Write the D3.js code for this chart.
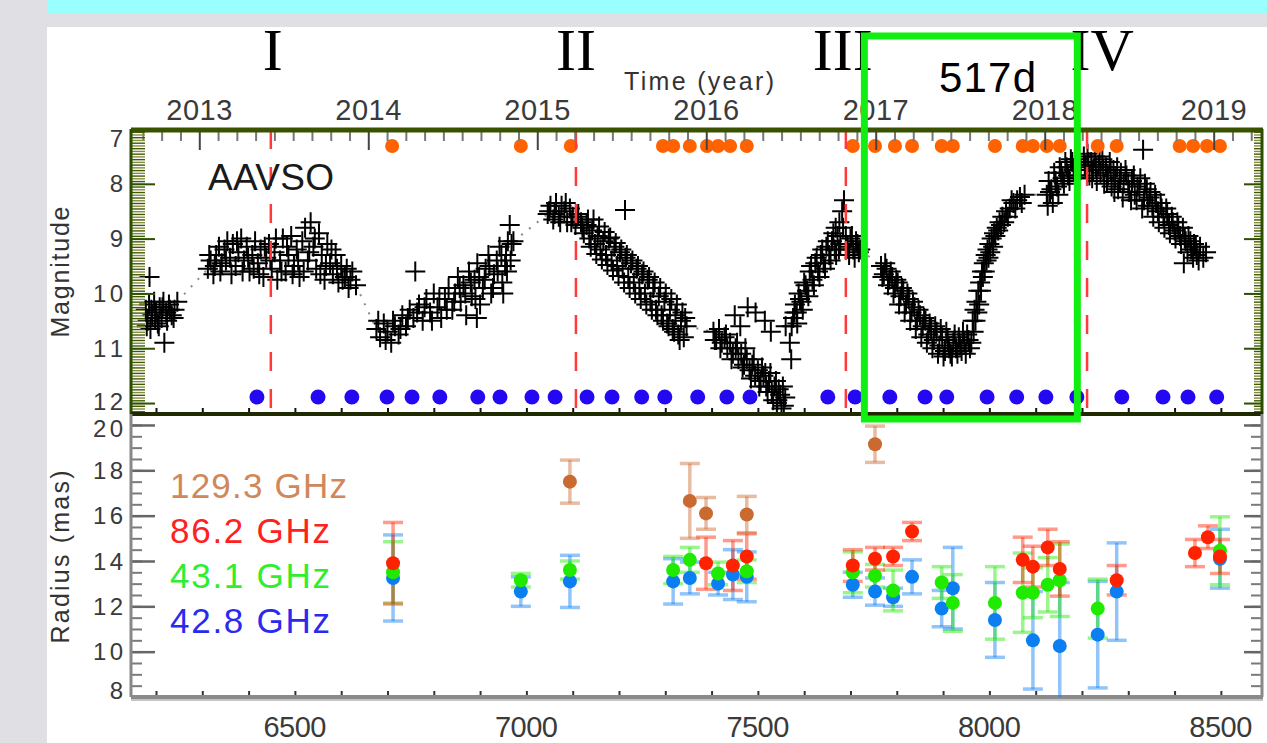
<!DOCTYPE html>
<html>
<head>
<meta charset="utf-8">
<script src="https://cdn.jsdelivr.net/npm/d3@7"></script>
<style>
    body { margin: 0; background: #e0dfe3; }
    svg { display: block; font-family: "Liberation Sans", Arial, sans-serif; }
</style>
</head>
<body>
<div id="chart"></div>
<script>
// AAVSO visual magnitudes [JD-2450000, mag]
const aavso = [
    [6178,10.3],[6182,10.5],[6185,10.2],[6186,9.7],[6188,10.65],[6192,10.4],[6196,10.15],[6200,10.35],[6204,10.55],
    [6208,10.25],[6212,10.45],[6216,10.15],[6218,10.9],[6222,10.35],[6228,10.2],[6234,10.4],[6240,10.3],[6246,10.15],
    [6180,10.6],[6190,10.3],[6198,10.45],[6206,10.6],[6214,10.25],[6224,10.5],[6230,10.3],[6238,10.45],

    [6312,9.55],[6318,9.4],[6324,9.65],[6330,9.3],[6336,9.15],[6342,9.45],[6348,9.2],[6354,9.05],[6360,9.35],
    [6366,9.1],[6372,9.5],[6378,9.25],[6384,9.0],[6390,9.4],[6396,9.15],[6402,9.6],[6408,9.3],[6414,9.05],
    [6420,9.45],[6426,9.2],[6432,9.7],[6438,9.35],[6444,9.1],[6450,9.55],[6456,9.25],[6462,9.75],[6468,9.4],
    [6474,9.0],[6480,9.6],[6486,9.3],[6492,8.95],[6498,9.5],[6504,9.2],[6510,9.7],[6516,9.05],[6522,8.8],
    [6528,9.4],[6534,8.7],[6540,9.15],[6546,9.55],[6552,8.9],[6558,9.3],[6564,9.75],[6570,9.1],[6576,9.45],
    [6582,9.65],[6588,9.3],[6594,9.8],[6600,9.5],[6608,9.7],[6616,9.9],[6624,9.6],[6632,9.85],
    [6315,9.3],[6327,9.5],[6339,9.6],[6351,9.4],[6363,9.65],[6375,9.05],[6387,9.6],[6399,9.35],[6411,9.55],
    [6423,9.65],[6435,9.15],[6447,9.4],[6459,9.0],[6471,9.6],[6483,9.15],[6495,9.65],[6507,9.4],[6519,9.6],
    [6531,9.25],[6543,9.0],[6555,9.65],[6567,9.5],[6579,9.2],[6591,9.55],[6603,9.75],[6612,9.55],[6620,9.75],

    [6676,10.65],[6684,10.8],[6692,10.55],[6700,10.7],[6708,10.9],[6716,10.6],[6724,10.75],[6732,10.4],
    [6740,10.6],[6748,10.3],[6756,10.45],[6760,9.6],[6768,10.2],[6776,10.5],[6784,10.1],[6792,10.35],
    [6800,10.0],[6808,10.25],[6816,10.45],[6824,10.1],[6832,9.9],[6840,10.3],[6846,10.0],[6852,9.7],
    [6858,10.15],[6864,9.85],[6870,10.4],[6876,9.6],[6882,10.05],[6888,9.75],[6893,10.45],[6894,9.45],
    [6900,10.2],[6906,9.9],[6912,9.55],[6918,9.3],[6924,10.0],[6930,9.65],[6936,9.4],[6942,9.15],
    [6948,9.8],[6950,10.0],[6954,9.5],[6956,9.3],[6960,9.05],[6964,8.75],[6968,9.1],[6972,9.05],
    [6680,10.5],[6696,10.85],[6712,10.5],[6728,10.65],[6744,10.45],[6764,10.35],[6780,10.25],[6796,10.5],
    [6812,10.1],[6828,10.3],[6844,10.15],[6856,9.9],[6868,10.0],[6880,9.8],[6890,10.1],[6898,9.7],
    [6910,9.75],[6920,9.5],[6928,9.9],[6938,9.6],[6946,9.3],[6958,9.6],[6966,9.4],

    [7046,8.55],[7052,8.4],[7058,8.65],[7064,8.35],[7070,8.6],[7076,8.4],[7082,8.5],[7088,8.7],[7094,8.45],
    [7100,8.6],[7106,8.75],[7112,8.55],[7118,8.7],[7124,8.9],[7130,8.75],[7136,9.0],[7142,8.85],[7148,9.1],
    [7154,8.95],[7160,9.2],[7166,9.05],[7172,9.3],[7178,9.0],[7184,9.4],[7190,9.15],[7196,9.5],[7202,9.25],
    [7208,9.55],[7213,8.48],[7214,9.35],[7220,9.7],[7226,9.45],[7232,9.8],[7238,9.55],[7244,9.9],[7250,9.65],
    [7256,10.0],[7262,9.75],[7268,10.15],[7274,9.9],[7280,10.3],[7286,10.05],[7292,10.4],[7298,10.15],
    [7304,10.55],[7310,10.3],[7316,10.65],[7322,10.4],[7328,10.75],[7334,10.5],[7340,10.8],[7346,10.6],
    [7049,8.5],[7061,8.55],[7073,8.7],[7085,8.35],[7097,8.7],[7109,8.6],[7121,8.8],[7133,8.65],
    [7139,9.15],[7145,8.65],[7151,9.28],[7157,8.78],[7163,9.38],[7169,8.88],[7175,9.48],[7181,8.98],
    [7187,9.58],[7193,9.08],[7199,9.68],[7205,9.2],[7211,9.8],[7217,9.3],[7223,9.9],[7229,9.4],
    [7235,10.0],[7241,9.5],[7247,10.1],[7253,9.6],[7259,10.2],[7265,9.7],[7271,10.3],[7277,9.8],
    [7283,10.4],[7289,9.9],[7295,10.5],[7301,10.0],[7307,10.6],[7313,10.1],[7319,10.7],[7325,10.2],
    [7331,10.85],[7337,10.35],[7343,10.45],

    [7404,10.7],[7410,10.85],[7416,10.65],[7422,10.9],[7428,10.8],[7434,11.0],[7440,10.9],[7446,11.1],
    [7450,10.4],[7452,11.0],[7458,11.2],[7464,11.1],[7470,11.3],[7476,11.2],[7478,10.25],[7482,11.4],
    [7488,11.3],[7494,11.5],[7500,11.4],[7506,11.6],[7512,11.5],[7515,10.5],[7516,11.45],[7518,11.7],
    [7524,11.6],[7530,11.8],[7536,11.7],[7541,12.0],[7542,11.95],[7548,11.85],[7554,11.7],[7556,12.05],
    [7569,10.9],[7572,11.2],
    [7407,10.85],[7419,11.0],[7431,10.75],[7443,11.2],[7455,10.9],[7467,11.35],[7473,11.0],[7485,11.55],
    [7491,11.2],[7503,11.7],[7509,11.35],[7521,11.8],[7527,11.45],[7533,11.95],[7539,11.6],[7545,11.75],
    [7551,12.1],[7559,11.9],[7462,10.6],[7495,10.35],[7528,10.7],[7560,10.6],

    [7576,10.45],[7580,10.2],[7584,10.35],[7588,10.0],[7594,10.15],[7600,9.8],[7606,9.95],[7612,9.6],
    [7618,9.75],[7624,9.45],[7630,9.6],[7636,9.3],[7642,9.45],[7648,9.15],[7654,9.3],[7660,9.05],[7666,9.2],
    [7668,8.8],[7672,8.95],[7676,8.7],[7678,9.1],[7682,8.5],[7686,8.3],[7690,8.95],[7694,9.15],[7700,9.0],
    [7706,9.2],[7712,9.05],[7718,9.25],
    [7573,10.6],[7579,10.35],[7585,10.55],[7591,10.1],[7597,10.3],[7603,9.85],[7609,10.05],[7615,9.5],
    [7621,9.85],[7627,9.35],[7633,9.7],[7639,9.2],[7645,9.55],[7651,9.05],[7657,9.4],[7663,8.9],[7669,9.3],
    [7675,9.2],[7684,8.8],[7697,9.3],[7703,8.95],[7709,9.35],[7715,9.1],[7721,9.2],

    [7766,9.5],[7772,9.65],[7778,9.55],[7784,9.75],[7790,9.7],[7796,9.9],[7802,9.8],[7808,10.05],[7814,9.95],
    [7820,10.2],[7826,10.1],[7832,10.35],[7838,10.25],[7844,10.5],[7850,10.4],[7856,10.6],[7862,10.5],
    [7868,10.75],[7874,10.65],[7880,10.85],[7886,10.7],[7892,10.95],[7898,10.8],[7904,11.05],[7910,10.85],
    [7916,11.1],[7922,10.9],[7928,11.0],[7934,10.8],[7940,11.05],[7946,10.9],[7952,10.75],[7958,11.0],
    [7769,9.7],[7775,9.45],[7781,9.85],[7787,9.6],[7793,10.0],[7799,9.75],[7805,10.2],[7811,9.9],[7817,10.35],
    [7823,10.0],[7829,10.5],[7835,10.15],[7841,10.65],[7847,10.3],[7853,10.8],[7859,10.45],[7865,10.9],
    [7871,10.55],[7877,11.0],[7883,10.6],[7889,11.1],[7895,10.65],[7901,11.15],[7907,10.7],[7913,11.0],
    [7919,11.15],[7925,10.75],[7931,11.1],[7937,10.95],[7943,10.7],[7949,11.1],[7955,10.85],[7961,10.9],

    [7964,10.5],[7968,10.3],[7972,10.15],[7976,9.95],[7980,9.8],[7984,9.6],[7988,9.45],[7992,9.3],[7996,9.2],
    [8000,9.1],[8005,9.0],[8010,8.9],[8016,8.8],[8022,8.7],[8028,8.6],[8036,8.5],[8044,8.45],[8052,8.35],
    [8060,8.3],[8066,8.24],[8076,8.2],
    [7966,10.7],[7970,10.5],[7974,10.35],[7978,10.2],[7982,9.95],[7986,9.7],[7990,9.6],[7994,9.4],[7998,9.35],
    [8002,9.25],[8008,9.15],[8013,8.95],[8019,8.85],[8025,8.75],[8032,8.7],[8040,8.6],[8048,8.3],[8056,8.45],
    [8070,8.35],

    [8124,8.2],[8128,7.95],[8134,8.1],[8140,7.8],[8146,8.05],[8152,7.7],[8158,7.9],[8164,7.6],[8170,7.85],
    [8176,7.55],[8182,7.75],[8188,7.65],[8194,7.9],
    [8126,8.4],[8131,8.15],[8137,8.35],[8143,7.95],[8149,8.2],[8155,7.8],[8161,8.0],[8167,7.7],[8173,7.95],
    [8179,7.6],[8185,7.85],[8191,7.55],[8197,7.75],

    [8204,7.5],[8208,7.7],[8212,7.45],[8216,7.85],[8220,7.6],[8224,7.75],[8228,7.5],[8232,7.95],[8236,7.65],
    [8240,7.8],[8244,7.55],[8248,8.0],[8252,7.7],[8256,7.85],[8260,7.6],[8264,8.05],[8268,7.75],[8272,7.9],
    [8278,8.1],[8284,7.8],[8290,8.0],[8296,7.85],[8302,8.15],[8308,7.95],[8314,8.2],[8320,8.05],[8326,7.9],
    [8332,7.38],[8334,8.3],[8340,8.1],[8346,8.25],[8352,8.4],[8358,8.2],[8364,8.5],[8370,8.35],[8376,8.6],
    [8382,8.45],[8388,8.75],[8394,8.6],[8400,8.85],[8406,8.7],[8412,8.95],[8418,8.8],[8420,9.45],[8424,9.05],
    [8430,8.95],[8436,9.2],[8442,9.1],[8448,9.3],[8455,9.15],[8462,9.35],[8468,9.25],
    [8206,7.65],[8214,7.6],[8222,7.9],[8230,7.7],[8238,7.5],[8246,7.75],[8254,7.95],[8262,7.75],[8270,8.15],
    [8276,7.7],[8282,7.95],[8288,8.25],[8294,7.75],[8300,8.0],[8306,8.3],[8312,7.85],[8318,8.3],[8324,8.15],
    [8330,8.45],[8336,8.0],[8342,8.4],[8348,8.15],[8354,8.6],[8360,8.35],[8366,8.7],[8372,8.45],[8378,8.8],
    [8384,8.55],[8390,8.9],[8396,8.7],[8402,9.0],[8408,8.8],[8414,9.1],[8422,9.0],[8428,9.25],[8434,9.05],
    [8440,9.35],[8446,9.15],[8452,9.4]
];

// observing epochs marked in the light-curve panel
const epochs129 = [6710, 6988, 7096, 7295, 7317, 7353, 7390, 7414, 7440, 7476, 7705, 7753, 7796, 7833,
    7897, 7921, 8012, 8072, 8094, 8124, 8152, 8234, 8275, 8411, 8440, 8470, 8498];
const epochs43 = [6418, 6550, 6623, 6699, 6753, 6813, 6895, 6943, 7012, 7062, 7131, 7185, 7249, 7299,
    7370, 7433, 7483, 7651, 7710, 7785, 7861, 7908, 7995, 8059, 8122, 8189, 8286, 8375, 8429, 8491];

const eventDays = [6448, 7107, 7690, 8211];
const eventLabels = ["I", "II", "III", "IV"];
const boxDays = [7730, 8190];
const boxLabel = "517d";

const years = [2013, 2014, 2015, 2016, 2017, 2018, 2019];
const dayTicks = [6500, 7000, 7500, 8000, 8500];
const magTicks = [7, 8, 9, 10, 11, 12];
const radiusTicks = [8, 10, 12, 14, 16, 18, 20];

// ring radius (mas) per band: epoch, value, error
const bandNames = ["129.3 GHz", "86.2 GHz", "43.1 GHz", "42.8 GHz"];
const day129 = [7094, 7353, 7388, 7476, 7753];
const rad129 = [17.5, 16.65, 16.1, 16.05, 19.15];
const err129 = [0.95, 1.65, 0.7, 0.8, 0.8];
const day86 = [6712, 7388, 7446, 7476, 7705, 7753, 7792, 7833, 8072, 8094, 8126, 8152, 8275, 8444, 8472, 8498];
const rad86 = [13.9, 13.9, 13.8, 14.2, 13.8, 14.1, 14.2, 15.3, 14.05, 13.75, 14.6, 13.65, 13.15, 14.35, 15.05, 14.2];
const err86 = [1.8, 1.15, 1.1, 1.0, 0.7, 0.5, 0.4, 0.4, 1.0, 0.9, 0.8, 1.2, 0.65, 0.6, 0.5, 0.75];
const day431 = [6712, 6988, 7094, 7317, 7353, 7414, 7476, 7705, 7753, 7792, 7897, 7921, 8012, 8072, 8094, 8126, 8152, 8234, 8498];
const rad431 = [13.5, 13.15, 13.6, 13.6, 14.05, 13.45, 13.55, 13.5, 13.35, 12.7, 13.05, 12.15, 12.15, 12.6, 12.6, 12.95, 13.15, 11.9, 14.45];
const err431 = [1.35, 0.3, 0.4, 0.6, 0.55, 0.5, 0.5, 0.9, 0.5, 0.9, 0.7, 1.25, 1.6, 1.75, 1.1, 1.2, 1.6, 1.3, 1.5];
const day428 = [6712, 6988, 7094, 7317, 7353, 7414, 7446, 7476, 7705, 7753, 7792, 7833, 7897, 7921, 8012, 8094, 8152, 8234, 8275, 8498];
const rad428 = [13.25, 12.65, 13.1, 13.1, 13.25, 13.0, 13.4, 13.3, 12.95, 12.65, 12.4, 13.3, 11.9, 12.8, 11.4, 10.5, 10.25, 10.75, 12.65, 14.1];
const err428 = [1.9, 0.65, 1.15, 1.0, 0.7, 0.5, 1.1, 1.1, 0.55, 0.6, 0.4, 0.75, 0.8, 1.8, 1.65, 2.15, 2.8, 2.35, 2.15, 1.3];


const width = 1267, height = 743;
const left = 131, right = 1263;
const upTop = 129, upBottom = 414, lowBottom = 697;

const svg = d3.select("#chart")
    .append("svg")
    .attr("width", width)
    .attr("height", height);

svg.append("rect").attr("width", width).attr("height", height).attr("fill", "#e0dfe3");
svg.append("rect").attr("x", 47).attr("y", 0).attr("width", width - 47).attr("height", 13).attr("fill", "#99ffff");
svg.append("rect").attr("x", 47).attr("y", 27).attr("width", width - 47).attr("height", height - 27).attr("fill", "#fff");

const xScale = d3.scaleLinear().domain([6146, 8591]).range([left, right]);
const yMag = d3.scaleLinear().domain([7, 12.2]).range([upTop, upBottom]);
const yRad = d3.scaleLinear().domain([8, 20.44]).range([lowBottom, upBottom + 1]);

const yearDay = y => Date.UTC(y, 0, 1) / 864e5 + 2440587.5 - 2450000;

const defs = svg.append("defs");
defs.append("clipPath").attr("id", "clipUp")
    .append("rect").attr("x", left).attr("y", upTop).attr("width", right - left).attr("height", upBottom - upTop);
defs.append("clipPath").attr("id", "clipLow")
    .append("rect").attr("x", left).attr("y", upBottom).attr("width", right - left).attr("height", lowBottom - upBottom);

const styleAxis = (g, color, w) => {
    g.select(".domain").remove();
    g.selectAll(".tick line").attr("stroke", color).attr("stroke-width", w);
};

// ---------- upper panel: light curve ----------
const up = svg.append("g").attr("clip-path", "url(#clipUp)");

// dotted connector only across the observing gaps
const sorted = d3.sort(aavso, d => d[0]);
const gaps = d3.pairs(sorted).filter(p => p[1][0] - p[0][0] > 25);

up.selectAll(".gap")
    .data(gaps)
    .enter()
    .append("line")
    .attr("x1", d => xScale(d[0][0])).attr("y1", d => yMag(d[0][1]))
    .attr("x2", d => xScale(d[1][0])).attr("y2", d => yMag(d[1][1]))
    .attr("stroke", "#8c8c8c")
    .attr("stroke-width", 2)
    .attr("stroke-dasharray", "2,8");

up.selectAll(".obs")
    .data(sorted)
    .enter()
    .append("path")
    .attr("class", "obs")
    .attr("transform", d => "translate(" + xScale(d[0]) + "," + yMag(d[1]) + ")")
    .attr("d", "M-10,0H10M0,-10V10")
    .attr("stroke", "#000")
    .attr("stroke-width", 2);

up.selectAll(".ep129")
    .data(epochs129)
    .enter()
    .append("circle")
    .attr("cx", d => xScale(d))
    .attr("cy", yMag(7.31))
    .attr("r", 7)
    .attr("fill", "#ff6200");

up.selectAll(".ep43")
    .data(epochs43)
    .enter()
    .append("circle")
    .attr("cx", d => xScale(d))
    .attr("cy", yMag(11.89))
    .attr("r", 7.5)
    .attr("fill", "#2408f2");

svg.append("text")
    .attr("x", 208).attr("y", 190)
    .attr("font-size", 37)
    .attr("textLength", 126)
    .attr("fill", "#1a1a1a")
    .text("AAVSO");

up.selectAll(".event")
    .data(eventDays)
    .enter()
    .append("line")
    .attr("x1", d => xScale(d)).attr("x2", d => xScale(d))
    .attr("y1", upTop + 1).attr("y2", upBottom)
    .attr("stroke", "#ff3a3a")
    .attr("stroke-width", 2.5)
    .attr("stroke-dasharray", "19,18");

// top axis (years)
const minorYear = [];
d3.range(2012, 2020).forEach(y => {
    const a = yearDay(y), b = yearDay(y + 1);
    d3.range(1, 9).forEach(k => minorYear.push(a + k * (b - a) / 9));
});
const inX = d => d > 6146 && d < 8591;

svg.append("g").attr("transform", "translate(0," + (upTop + 3) + ")")
    .call(d3.axisBottom(xScale).tickValues(minorYear.filter(inX)).tickSize(9).tickFormat("").tickSizeOuter(0))
    .call(g => styleAxis(g, "#777", 2));
svg.append("g").attr("transform", "translate(0," + (upTop + 3) + ")")
    .call(d3.axisBottom(xScale).tickValues(years.map(yearDay)).tickSize(18).tickFormat("").tickSizeOuter(0))
    .call(g => styleAxis(g, "#444", 2));

svg.selectAll(".year")
    .data(years)
    .enter()
    .append("text")
    .attr("x", d => xScale(yearDay(d)))
    .attr("y", 120)
    .attr("text-anchor", "middle")
    .attr("font-size", 29)
    .attr("textLength", 66)
    .attr("fill", "#3a3a3a")
    .text(d => d);

svg.append("text")
    .attr("x", 624).attr("y", 90)
    .attr("font-size", 25)
    .attr("textLength", 150)
    .attr("fill", "#333")
    .text("Time (year)");

// left / right magnitude axes
svg.append("g").attr("transform", "translate(" + left + ",0)")
    .call(d3.axisRight(yMag).tickValues(d3.range(7.05, 12.2, 0.05)).tickSize(14).tickFormat("").tickSizeOuter(0))
    .call(g => {
        styleAxis(g, "#3d5c00", 1.4);
        g.selectAll(".tick line").attr("stroke", (d, i) => i % 2 ? "#8a8a3c" : "#3d5c00");
    });
svg.append("g").attr("transform", "translate(" + left + ",0)")
    .call(d3.axisRight(yMag).tickValues(magTicks.slice(1)).tickSize(24).tickFormat("").tickSizeOuter(0))
    .call(g => styleAxis(g, "#2a5000", 2));

svg.append("g").attr("transform", "translate(" + (right - 1) + ",0)")
    .call(d3.axisLeft(yMag).tickValues(d3.range(7.05, 12.2, 0.05)).tickSize(8).tickFormat("").tickSizeOuter(0))
    .call(g => {
        styleAxis(g, "#3d5c00", 1.4);
        g.selectAll(".tick line").attr("stroke", (d, i) => i % 2 ? "#8a8a3c" : "#3d5c00");
    });
svg.append("g").attr("transform", "translate(" + (right - 1) + ",0)")
    .call(d3.axisLeft(yMag).tickValues(magTicks.slice(1)).tickSize(18).tickFormat("").tickSizeOuter(0))
    .call(g => styleAxis(g, "#2a5000", 2));

svg.selectAll(".magLabel")
    .data(magTicks)
    .enter()
    .append("text")
    .attr("x", 123)
    .attr("y", d => Math.min(Math.max(yMag(d), 138), 401))
    .attr("dy", "0.36em")
    .attr("text-anchor", "end")
    .attr("font-size", 24)
    .attr("textLength", d => String(d).length * 15)
    .attr("fill", "#3a3a3a")
    .text(d => d);

svg.append("text")
    .attr("transform", "translate(69,272) rotate(-90)")
    .attr("text-anchor", "middle")
    .attr("font-size", 25)
    .attr("textLength", 131)
    .attr("fill", "#333")
    .text("Magnitude");

// upper frame
svg.append("line").attr("x1", left).attr("x2", right).attr("y1", upTop + 1).attr("y2", upTop + 1)
    .attr("stroke", "#3a5200").attr("stroke-width", 5);
svg.append("line").attr("x1", left).attr("x2", left).attr("y1", upTop).attr("y2", upBottom)
    .attr("stroke", "#2b4f00").attr("stroke-width", 3);
svg.append("line").attr("x1", right - 1).attr("x2", right - 1).attr("y1", upTop).attr("y2", upBottom)
    .attr("stroke", "#2b4f00").attr("stroke-width", 3);

svg.append("g").attr("transform", "translate(0," + upBottom + ")")
    .call(d3.axisTop(xScale).tickValues(d3.range(6200, 8600, 100)).tickSize(6).tickFormat("").tickSizeOuter(0))
    .call(g => styleAxis(g, "#111", 2));
svg.append("line").attr("x1", left).attr("x2", right).attr("y1", upBottom).attr("y2", upBottom)
    .attr("stroke", "#1f2a00").attr("stroke-width", 4);

// ---------- lower panel: ring radius ----------
svg.append("g").attr("transform", "translate(" + left + ",0)")
    .call(d3.axisRight(yRad).tickValues(d3.range(8.5, 20.4, 0.5)).tickSize(11).tickFormat("").tickSizeOuter(0))
    .call(g => styleAxis(g, "#7a7a7a", 2));
svg.append("g").attr("transform", "translate(" + left + ",0)")
    .call(d3.axisRight(yRad).tickValues(radiusTicks).tickSize(24).tickFormat("").tickSizeOuter(0))
    .call(g => styleAxis(g, "#666", 2.5));
svg.append("g").attr("transform", "translate(" + (right - 1) + ",0)")
    .call(d3.axisLeft(yRad).tickValues(d3.range(8.5, 20.4, 0.5)).tickSize(11).tickFormat("").tickSizeOuter(0))
    .call(g => styleAxis(g, "#7a7a7a", 2));
svg.append("g").attr("transform", "translate(" + (right - 1) + ",0)")
    .call(d3.axisLeft(yRad).tickValues(radiusTicks).tickSize(18).tickFormat("").tickSizeOuter(0))
    .call(g => styleAxis(g, "#666", 2.5));

svg.append("line").attr("x1", left).attr("x2", left).attr("y1", upBottom).attr("y2", lowBottom)
    .attr("stroke", "#888").attr("stroke-width", 3);
svg.append("line").attr("x1", right - 1).attr("x2", right - 1).attr("y1", upBottom).attr("y2", lowBottom)
    .attr("stroke", "#888").attr("stroke-width", 3);

svg.append("g").attr("transform", "translate(0," + lowBottom + ")")
    .call(d3.axisTop(xScale).tickValues(d3.range(6200, 8600, 100)).tickSize(6).tickFormat("").tickSizeOuter(0))
    .call(g => styleAxis(g, "#333", 2));
svg.append("line").attr("x1", left).attr("x2", right).attr("y1", lowBottom).attr("y2", lowBottom)
    .attr("stroke", "#8a8a8a").attr("stroke-width", 4);
svg.append("line").attr("x1", left).attr("x2", right).attr("y1", lowBottom + 3).attr("y2", lowBottom + 3)
    .attr("stroke", "#c4c4c4").attr("stroke-width", 2);

svg.selectAll(".radLabel")
    .data(radiusTicks)
    .enter()
    .append("text")
    .attr("x", 123)
    .attr("y", d => Math.min(Math.max(yRad(d), 428), 690))
    .attr("dy", "0.36em")
    .attr("text-anchor", "end")
    .attr("font-size", 24)
    .attr("textLength", d => String(d).length * 15)
    .attr("fill", "#3a3a3a")
    .text(d => d);

svg.selectAll(".dayLabel")
    .data(dayTicks)
    .enter()
    .append("text")
    .attr("x", d => xScale(d))
    .attr("y", 737)
    .attr("text-anchor", "middle")
    .attr("font-size", 29)
    .attr("textLength", 63)
    .attr("fill", "#3a3a3a")
    .text(d => d);

svg.append("text")
    .attr("transform", "translate(69,557) rotate(-90)")
    .attr("text-anchor", "middle")
    .attr("font-size", 25)
    .attr("textLength", 173)
    .attr("fill", "#333")
    .text("Radius (mas)");

const bands = [
    {days: day428, vals: rad428, errs: err428, color: "#0b7ff2", text: "#2a2aee"},
    {days: day431, vals: rad431, errs: err431, color: "#1fea00", text: "#2fee2f"},
    {days: day86, vals: rad86, errs: err86, color: "#ff2200", text: "#ff2020"},
    {days: day129, vals: rad129, errs: err129, color: "#c96a30", text: "#d0885a"}
];

const low = svg.append("g").attr("clip-path", "url(#clipLow)");

bands.forEach(b => {
    const rows = b.days.map((d, i) => ({day: d, v: b.vals[i], e: b.errs[i]}));
    const eb = low.append("g")
        .attr("stroke", b.color)
        .attr("stroke-opacity", 0.45)
        .attr("stroke-width", 3.5);
    eb.selectAll("line.v").data(rows).enter().append("line")
        .attr("x1", d => xScale(d.day)).attr("x2", d => xScale(d.day))
        .attr("y1", d => yRad(d.v - d.e)).attr("y2", d => yRad(d.v + d.e));
    eb.selectAll("line.lo").data(rows).enter().append("line")
        .attr("x1", d => xScale(d.day) - 10).attr("x2", d => xScale(d.day) + 10)
        .attr("y1", d => yRad(d.v - d.e)).attr("y2", d => yRad(d.v - d.e));
    eb.selectAll("line.hi").data(rows).enter().append("line")
        .attr("x1", d => xScale(d.day) - 10).attr("x2", d => xScale(d.day) + 10)
        .attr("y1", d => yRad(d.v + d.e)).attr("y2", d => yRad(d.v + d.e));
});

bands.forEach(b => {
    low.append("g")
        .selectAll("circle")
        .data(b.days.map((d, i) => [d, b.vals[i]]))
        .enter()
        .append("circle")
        .attr("cx", d => xScale(d[0]))
        .attr("cy", d => yRad(d[1]))
        .attr("r", 7)
        .attr("fill", b.color);
});

const legendColors = bands.slice().reverse().map(b => b.text);
svg.selectAll(".legend")
    .data(bandNames)
    .enter()
    .append("text")
    .attr("x", 170)
    .attr("y", (d, i) => 498 + i * 45)
    .attr("font-size", 35)
    .attr("textLength", (d, i) => i === 0 ? 177 : 160)
    .attr("fill", (d, i) => legendColors[i])
    .text(d => d);

// ---------- annotations ----------
const romanShift = [2, 0, -3, 15];
svg.selectAll(".roman")
    .data(eventLabels)
    .enter()
    .append("text")
    .attr("x", (d, i) => xScale(eventDays[i]) + romanShift[i])
    .attr("y", 70)
    .attr("text-anchor", "middle")
    .attr("font-family", "'Liberation Serif', 'Times New Roman', serif")
    .attr("font-size", 60)
    .attr("fill", "#000")
    .text(d => d);

svg.append("rect")
    .attr("x", xScale(boxDays[0]))
    .attr("y", 36)
    .attr("width", xScale(boxDays[1]) - xScale(boxDays[0]))
    .attr("height", 383)
    .attr("fill", "none")
    .attr("stroke", "#11ee11")
    .attr("stroke-width", 7);

svg.append("text")
    .attr("x", 939).attr("y", 92)
    .attr("font-size", 42)
    .attr("textLength", 97)
    .attr("fill", "#000")
    .text(boxLabel);
</script>
</body>
</html>
